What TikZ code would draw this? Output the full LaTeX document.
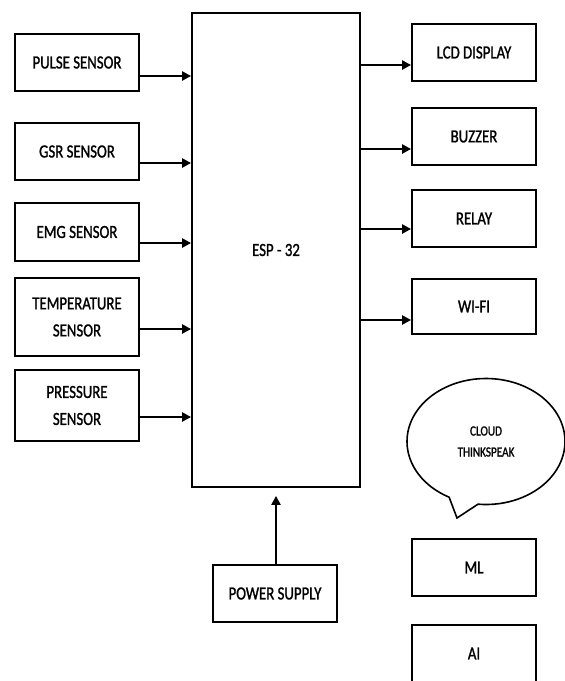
\documentclass[tikz,border=0pt]{standalone}
\usepackage{fontspec}
\setmainfont[FakeStretch=0.8,FakeBold=1.2]{Carlito}
\usetikzlibrary{shapes.callouts,arrows.meta}
\begin{document}
\begin{tikzpicture}[x=1pt,y=-1pt,
  blk/.style={draw, line width=1.8pt, minimum width=124pt, minimum height=57pt, inner sep=0pt,
    align=center, font=\fontsize{18.5}{27}\selectfont},
  conn/.style={line width=2.4pt, -{Triangle[length=9pt,width=9pt]}}]
\useasboundingbox (0,0) rectangle (565,681);
% left column
\node[blk] (pulse) at (77,62.5) {PULSE SENSOR};
\node[blk] (gsr) at (77,151.5) {GSR SENSOR};
\node[blk, minimum height=58pt] (emg) at (77,232) {EMG SENSOR};
\node[blk, minimum height=78pt] (temp) at (77,317) {TEMPERATURE\\SENSOR};
\node[blk, minimum height=71pt] (press) at (77,405.5) {PRESSURE\\SENSOR};
% ESP
\node[blk, minimum width=168pt, minimum height=474pt] (esp) at (276,250) {ESP - 32};
% right column
\node[blk] (lcd) at (474,52.5) {LCD DISPLAY};
\node[blk] (buzz) at (474,136.5) {BUZZER};
\node[blk] (relay) at (474,218.5) {RELAY};
\node[blk, minimum height=55pt] (wifi) at (474,306.5) {WI-FI};
\node[ellipse callout, draw, line width=1.6pt, minimum width=158pt, minimum height=126pt,
  inner sep=0pt, align=center, font=\fontsize{14}{21}\selectfont,
  callout absolute pointer={(457,518)}, callout pointer arc=22] (cloud) at (486,441.5) {CLOUD\\THINKSPEAK};
\node[blk] (ml) at (474,567.5) {ML};
\node[blk] (ai) at (474,653.5) {AI};
% power
\node[blk] (power) at (275,593.5) {POWER SUPPLY};
% anchor points
\coordinate (p1) at ([yshift=-13.5pt]pulse.east);
\coordinate (p2) at ([yshift=-11.5pt]gsr.east);
\coordinate (p3) at ([yshift=-11pt]emg.east);
\coordinate (p4) at ([yshift=-12pt]temp.east);
\coordinate (p5) at ([yshift=-11.5pt]press.east);
\coordinate (q1) at ([yshift=-12.5pt]lcd.west);
\coordinate (q2) at ([yshift=-12.5pt]buzz.west);
\coordinate (q3) at ([yshift=-10.5pt]relay.west);
\coordinate (q4) at ([yshift=-13.5pt]wifi.west);
\coordinate (ps) at ([xshift=1pt]power.north);
\coordinate (pe) at ([yshift=-8pt]esp.south);
% connectors
\draw[conn] (p1) -- (esp.west |- p1);
\draw[conn] (p2) -- (esp.west |- p2);
\draw[conn] (p3) -- (esp.west |- p3);
\draw[conn] (p4) -- (esp.west |- p4);
\draw[conn] (p5) -- (esp.west |- p5);
\draw[conn] (esp.east |- q1) -- (q1);
\draw[conn] (esp.east |- q2) -- (q2);
\draw[conn] (esp.east |- q3) -- (q3);
\draw[conn] (esp.east |- q4) -- (q4);
\draw[conn] (ps) -- (ps |- pe);
\end{tikzpicture}
\end{document}
